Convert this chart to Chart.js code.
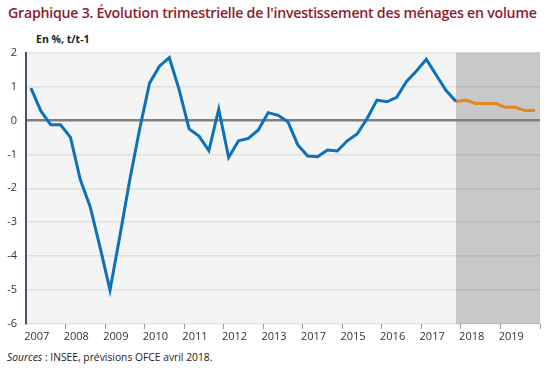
<!DOCTYPE html>
<html lang="fr">
<head>
<meta charset="utf-8">
<script src="https://cdn.jsdelivr.net/npm/chart.js@4"></script>
<style>
  html, body { margin: 0; padding: 0; background: #fff; }
  body { width: 550px; height: 370px; position: relative; overflow: hidden; font-family: 'Open Sans', sans-serif; }
  #title { position: absolute; left: 8px; top: 3px; font-size: 14.2px; font-weight: 600; color: #8e1b2d; white-space: nowrap; letter-spacing: -0.25px; }
  #unit { position: absolute; left: 36px; top: 32px; font-size: 10.5px; font-weight: bold; color: #222; }
  #source { position: absolute; left: 7px; top: 350px; font-size: 10.3px; color: #222; }
  #wrap { position: absolute; left: 0; top: 37px; width: 550px; height: 308px; }
</style>
</head>
<body>
<div id="title">Graphique 3. Évolution trimestrielle de l'investissement des ménages en volume</div>
<div id="unit">En %, t/t-1</div>
<div id="source"><i>Sources</i> : INSEE, prévisions OFCE avril 2018.</div>
<div id="wrap"><canvas id="chart"></canvas></div>
<script>
// year labels as printed on the axis (2014 is printed as 2017 in the source)
const YEAR_LABELS = ['2007', '2008', '2009', '2010', '2011', '2012', '2013',
                     '2017', '2015', '2016', '2017', '2018', '2019'];
const QUARTERS = ['T1', 'T2', 'T3', 'T4'];

// quarterly growth, 2007T1 -> 2017T4 (observed)
const observed = [0.95, 0.28, -0.13, -0.13, -0.5, -1.75, -2.55, -3.75, -5.0, -3.4,
                  -1.75, -0.25, 1.1, 1.6, 1.85, 0.9, -0.25, -0.46, -0.89, 0.33,
                  -1.09, -0.6, -0.53, -0.28, 0.23, 0.15, -0.04, -0.72, -1.05, -1.07,
                  -0.87, -0.9, -0.6, -0.4, 0.05, 0.6, 0.55, 0.68, 1.15, 1.46,
                  1.8, 1.34, 0.88, 0.56];

// OFCE forecast, 2017T4 -> 2019T4
const forecast = [0.56, 0.6, 0.5, 0.5, 0.5, 0.39, 0.39, 0.29, 0.29];
const FORECAST_START = 43; // index of 2017T4

const Y_MIN = -6, Y_MAX = 2;

// quarter categories built from the year list
const quarterLabels = [];
YEAR_LABELS.forEach((y, i) => QUARTERS.forEach(q => quarterLabels.push((2007 + i) + q)));
const forecastSeries = new Array(FORECAST_START).fill(null).concat(forecast);

const FONT = { family: "'Open Sans', sans-serif", size: 11 };

// plot background + shaded forecast zone
const backdrop = {
  id: 'backdrop',
  beforeDraw(chart) {
    const { ctx, chartArea: a, scales } = chart;
    ctx.save();
    ctx.fillStyle = '#f4f4f4';
    ctx.fillRect(a.left, a.top, a.right - a.left, a.bottom - a.top);
    const x0 = scales.x.getPixelForValue(FORECAST_START);
    ctx.fillStyle = '#c8c8c8';
    ctx.fillRect(x0, a.top, a.right - x0, a.bottom - a.top);
    ctx.restore();
  }
};

new Chart(document.getElementById('chart'), {
  type: 'line',
  data: {
    labels: quarterLabels,
    datasets: [
      {
        label: 'Observé',
        data: observed,
        borderColor: '#0b72b9',
        borderWidth: 3,
        pointRadius: 0,
        tension: 0,
        xAxisID: 'x',
      },
      {
        label: 'Prévision',
        data: forecastSeries,
        borderColor: '#e3871f',
        borderWidth: 3,
        pointRadius: 0,
        tension: 0,
        xAxisID: 'x',
      }
    ]
  },
  options: {
    responsive: true,
    maintainAspectRatio: false,
    animation: false,
    layout: { padding: { top: 5, right: 10, left: 0, bottom: 0 } },
    plugins: { legend: { display: false }, tooltip: { enabled: false } },
    scales: {
      x: {
        type: 'category',
        display: false,
        offset: true,
      },
      x2: {
        type: 'category',
        labels: YEAR_LABELS,
        position: 'bottom',
        offset: true,
        border: { display: false },
        grid: {
          offset: true,
          drawOnChartArea: false,
          drawTicks: true,
          tickLength: 5,
          color: c => (c.index === 0 || c.index >= YEAR_LABELS.length) ? 'rgba(0,0,0,0)' : '#9a9a9a',
          lineWidth: 1,
        },
        ticks: {
          color: '#333',
          font: FONT,
          padding: 1,
          labelOffset: -9,
          maxRotation: 0,
          autoSkip: false,
        },
        afterFit: s => { s.height = 21; }
      },
      y: {
        min: Y_MIN,
        max: Y_MAX,
        border: { color: '#44546a', width: 2 },
        grid: {
          color: c => c.tick.value === 0 ? '#7f7f7f' : 'rgba(0,0,0,0.08)',
          lineWidth: c => c.tick.value === 0 ? 2.5 : 1.5,
          drawTicks: false,
        },
        ticks: {
          stepSize: 1,
          color: '#333',
          font: FONT,
          padding: 9,
        },
        afterFit: s => { s.width = 26; }
      }
    }
  },
  plugins: [backdrop]
});
</script>
</body>
</html>
